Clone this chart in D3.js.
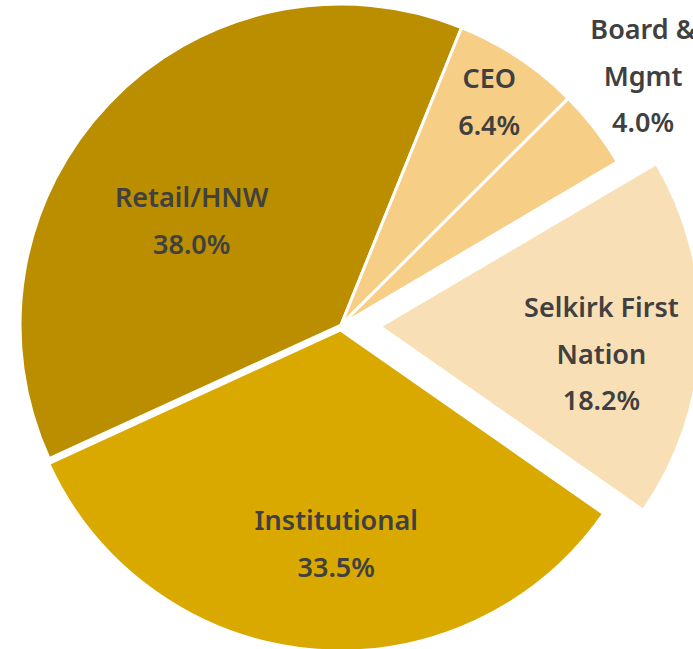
<!DOCTYPE html>
<html>
<head>
<meta charset="utf-8">
<script src="https://cdn.jsdelivr.net/npm/d3@7"></script>
<style>
  html, body { margin: 0; padding: 0; background: #ffffff; overflow: hidden; }
  svg { display: block; }
</style>
</head>
<body>
<svg id="chart" width="693" height="649"></svg>
<script>
// ---- data ----
const categories = ["Retail/HNW", "CEO", "Board & Mgmt", "Selkirk First Nation", "Institutional"];
const values = [38.0, 6.4, 4.0, 18.2, 33.5];
const labelLines = [["Retail/HNW"], ["CEO"], ["Board &", "Mgmt"], ["Selkirk First", "Nation"], ["Institutional"]];
const colors = ["#BB8E00", "#F6CE85", "#F6CE85", "#F9DFB5", "#D9A900"];

// ---- layout ----
const W = 693, H = 649;
const cx = 341, cy = 325, R = 321;
const startDeg = 245.4;
const explode = [0, 0, 0, 39, 5];
// label placement: [radius fraction, angle nudge in degrees]
const labelPos = [[0.568, -8.7], [0.835, 0], [1.22, -1.8], [0.695, 4.8], [0.665, -4]];
const lineGap = 46.5;

const svg = d3.select("#chart");
const g = svg.append("g").attr("transform", `translate(${cx},${cy})`);

const pie = d3.pie().sort(null).value(d => d)
  .startAngle(startDeg * Math.PI / 180)
  .endAngle(startDeg * Math.PI / 180 + 2 * Math.PI);
const arcs = pie(values);
const arc = d3.arc().innerRadius(0).outerRadius(R);

const slices = g.selectAll("g.slice").data(arcs).enter().append("g")
  .attr("class", "slice")
  .attr("transform", (d, i) => {
    const a = (d.startAngle + d.endAngle) / 2;
    return `translate(${Math.sin(a) * explode[i]},${-Math.cos(a) * explode[i]})`;
  });

slices.append("path")
  .attr("d", arc)
  .attr("fill", (d, i) => colors[i])
  .attr("stroke", "#ffffff")
  .attr("stroke-width", 3)
  .attr("stroke-linejoin", "round");

slices.each(function (d, i) {
  const a = (d.startAngle + d.endAngle) / 2 + labelPos[i][1] * Math.PI / 180;
  const r = R * labelPos[i][0];
  const x = Math.sin(a) * r, y = -Math.cos(a) * r;
  const lines = labelLines[i].concat([d3.format(".1f")(values[i]) + "%"]);
  const n = lines.length;
  const t = d3.select(this).append("text")
    .attr("text-anchor", "middle")
    .attr("font-family", "'Noto Sans', sans-serif")
    .attr("font-weight", 600)
    .attr("font-size", 27)
    .attr("fill", "#404040");
  lines.forEach((ln, k) => {
    t.append("tspan")
      .attr("x", x)
      .attr("y", y + (k - (n - 1) / 2) * lineGap + 10)
      .text(ln);
  });
});
</script>
</body>
</html>
